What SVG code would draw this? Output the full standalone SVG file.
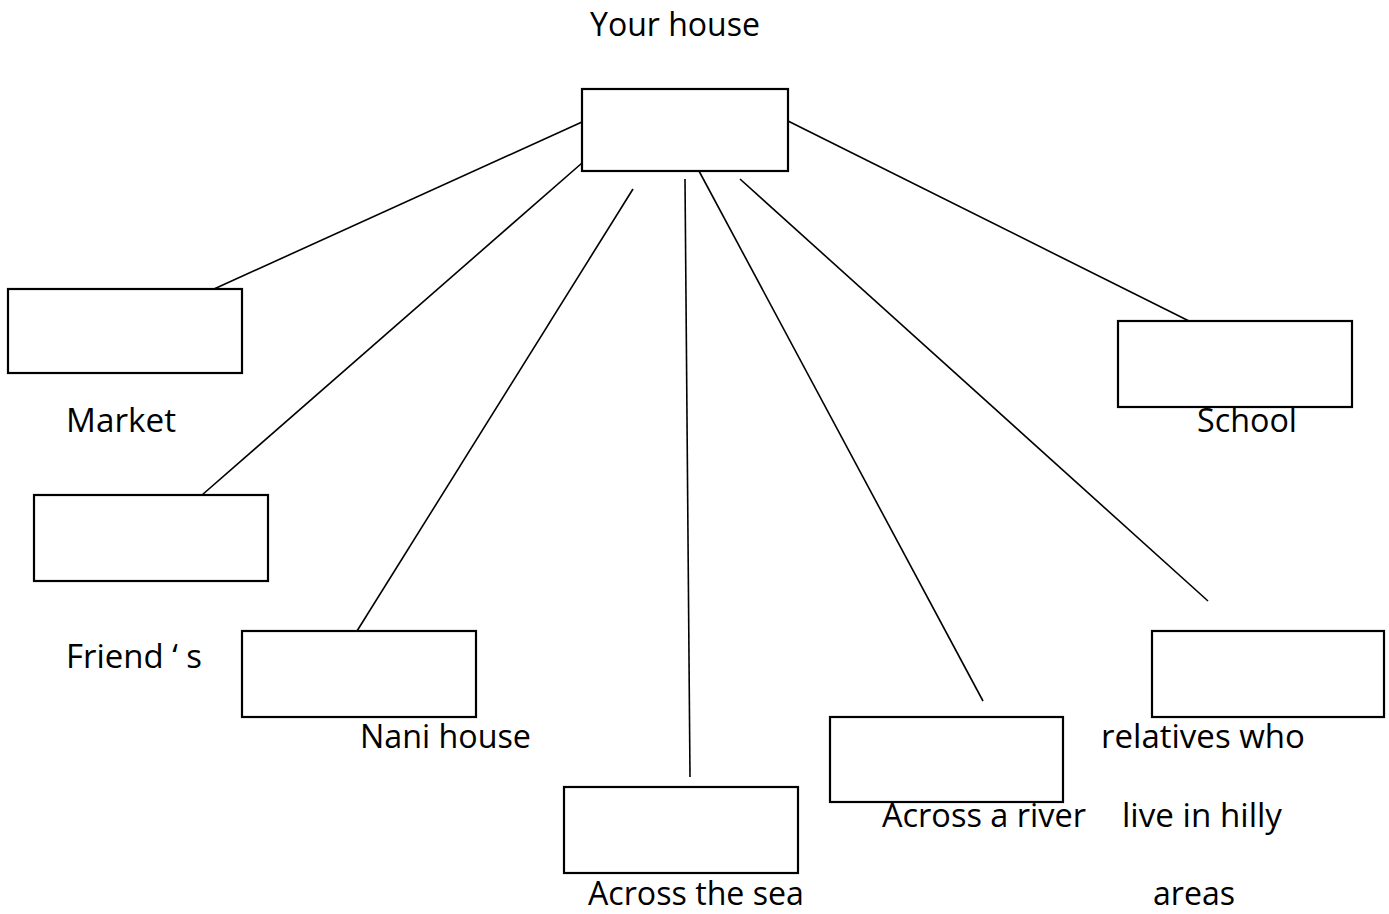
<svg xmlns="http://www.w3.org/2000/svg" width="1389" height="914" viewBox="0 0 1389 914">
<style>
.box{fill:#fff;stroke:#000;stroke-width:2.2}
.ln{stroke:#000;stroke-width:1.6;fill:none}
.t{font-family:"Open Sans","Liberation Sans",sans-serif;font-size:33px;fill:#000}
</style>
<rect width="1389" height="914" fill="#fff"/>
<g id="connectors">
<line class="ln" x1="582" y1="122" x2="214" y2="289"/>
<line class="ln" x1="582" y1="163" x2="202" y2="495"/>
<line class="ln" x1="633" y1="189" x2="357" y2="631"/>
<line class="ln" x1="685" y1="179" x2="690" y2="777"/>
<line class="ln" x1="699" y1="171" x2="983" y2="701"/>
<line class="ln" x1="740" y1="179" x2="1208" y2="601"/>
<line class="ln" x1="788" y1="121" x2="1189" y2="321"/>
</g>
<g id="your-house">
<rect class="box" x="582" y="89" width="206" height="82"/>
<text class="t" x="590" y="36" textLength="170" lengthAdjust="spacingAndGlyphs">Your house</text>
</g>
<g id="market">
<rect class="box" x="8" y="289" width="234" height="84"/>
<text class="t" x="66" y="432" textLength="110" lengthAdjust="spacingAndGlyphs">Market</text>
</g>
<g id="friends">
<rect class="box" x="34" y="495" width="234" height="86"/>
<text class="t" x="66" y="668" textLength="136" lengthAdjust="spacingAndGlyphs">Friend ‘ s</text>
</g>
<g id="nani-house">
<rect class="box" x="242" y="631" width="234" height="86"/>
<text class="t" x="360" y="748" textLength="171" lengthAdjust="spacingAndGlyphs">Nani house</text>
</g>
<g id="across-sea">
<rect class="box" x="564" y="787" width="234" height="86"/>
<text class="t" x="588" y="905" textLength="216" lengthAdjust="spacingAndGlyphs">Across the sea</text>
</g>
<g id="across-river">
<rect class="box" x="830" y="717" width="233" height="85"/>
<text class="t" x="882" y="827" textLength="204" lengthAdjust="spacingAndGlyphs">Across a river</text>
</g>
<g id="relatives">
<rect class="box" x="1152" y="631" width="232" height="86"/>
<text class="t" x="1101" y="748" textLength="204" lengthAdjust="spacingAndGlyphs">relatives who</text>
<text class="t" x="1122" y="827" textLength="160" lengthAdjust="spacingAndGlyphs">live in hilly</text>
<text class="t" x="1153" y="905" textLength="82" lengthAdjust="spacingAndGlyphs">areas</text>
</g>
<g id="school">
<rect class="box" x="1118" y="321" width="234" height="86"/>
<text class="t" x="1197" y="432" textLength="100" lengthAdjust="spacingAndGlyphs">School</text>
</g>
</svg>
